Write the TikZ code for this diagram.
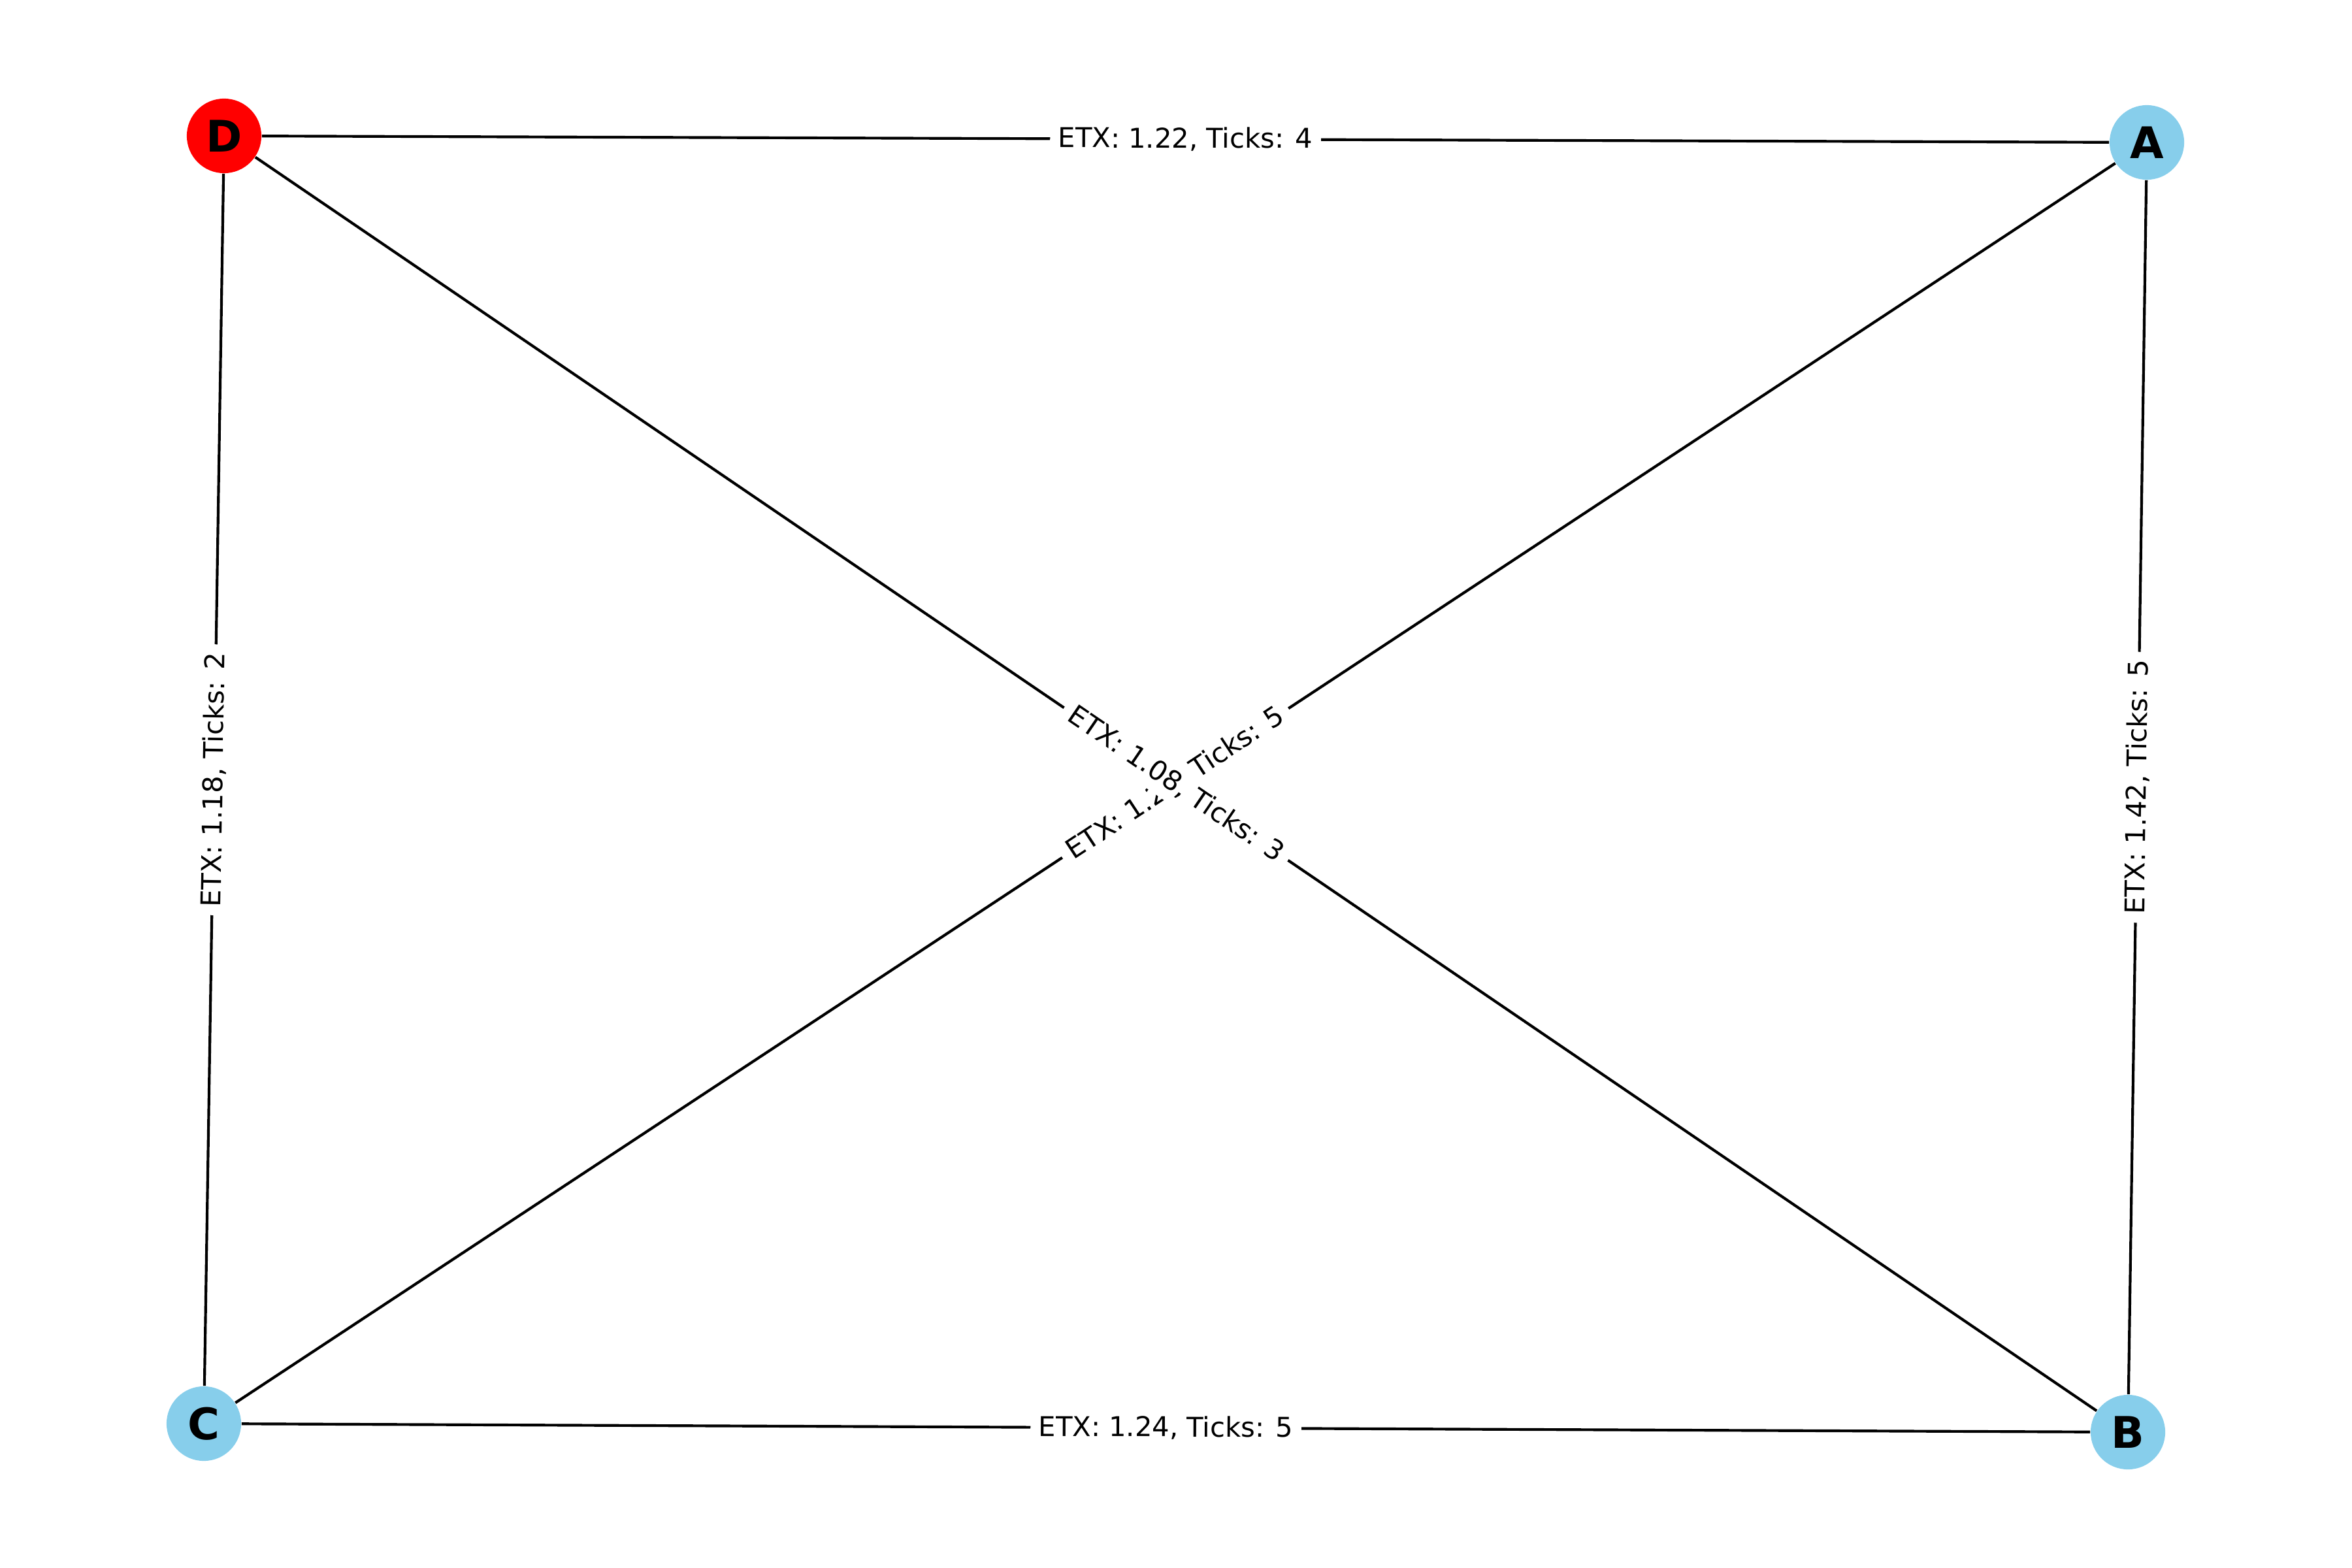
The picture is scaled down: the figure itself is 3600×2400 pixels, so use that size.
\documentclass[tikz,border=0pt]{standalone}
\usepackage{fontspec}
\setmainfont{DejaVu Sans}
\usetikzlibrary{positioning,backgrounds}

\begin{document}
\begin{tikzpicture}[
  x=0.24pt,y=-0.24pt,
  vtx/.style={circle,minimum size=27.4pt,inner sep=0pt,font=\fontsize{16}{19}\selectfont\bfseries},
  link/.style={line width=1pt,black},
  lbl/.style={midway,sloped,fill=white,inner sep=3pt,font=\fontsize{10}{12}\selectfont}
]
\useasboundingbox (0,0) rectangle (3600,2400);
% ---------- nodes ----------
\node[vtx,fill={rgb,255:red,255;green,0;blue,0}] (D) at (343,208) {D};
\node[vtx,fill={rgb,255:red,135;green,206;blue,235}] (A) at (3286,218) {A};
\node[vtx,fill={rgb,255:red,135;green,206;blue,235}] (C) at (312,2179) {C};
\node[vtx,fill={rgb,255:red,135;green,206;blue,235}] (B) at (3257,2192) {B};
\begin{scope}[on background layer]
% ---------- links ----------
\draw[link] (D) -- (A);
\draw[link] (D) -- (C);
\draw[link] (D) -- (B);
\draw[link] (C) -- (A);
\draw[link] (A) -- (B);
\draw[link] (C) -- (B);
% ---------- link labels ----------
\path (D) -- node[lbl] {ETX: 1.22, Ticks: 4} (A);
\path (D) -- node[lbl] {ETX: 1.18, Ticks: 2} (C);
\path (C) -- node[lbl] {ETX: 1.25, Ticks: 5} (A);
\path (D) -- node[lbl] {ETX: 1.08, Ticks: 3} (B);
\path (A) -- node[lbl] {ETX: 1.42, Ticks: 5} (B);
\path (C) -- node[lbl] {ETX: 1.24, Ticks: 5} (B);
\end{scope}
\end{tikzpicture}
\end{document}
